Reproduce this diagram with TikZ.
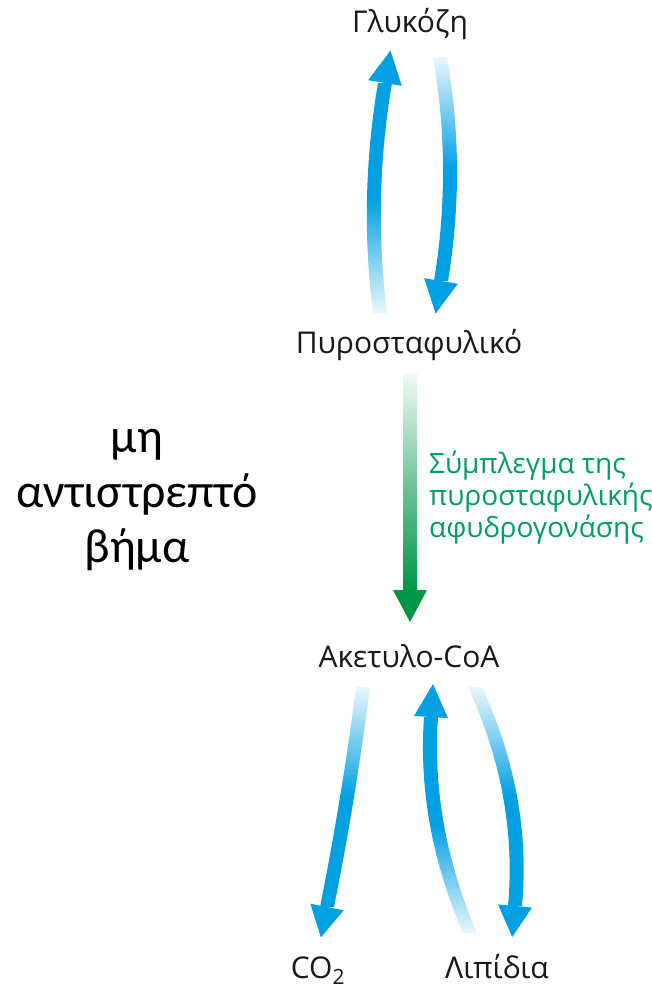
\documentclass[tikz,border=0pt]{standalone}
\usepackage{fontspec}
\setmainfont{Open Sans}
\newfontfamily\calibrifont{Carlito}
\usepackage{tikz}
\usetikzlibrary{calc}
\definecolor{bluearr}{RGB}{0,160,226}
\definecolor{greenarr}{RGB}{0,150,72}
\definecolor{greentxt}{RGB}{0,158,100}
\tikzset{
  compound/.style={font=\fontsize{30}{34}\selectfont,text=black!90,anchor=base,inner sep=0pt},
  enzyme/.style={font=\fontsize{28}{32}\selectfont,text=greentxt,align=left,anchor=north west,inner sep=0pt},
  fadeup/.style={top color=#1,bottom color=#1!8,middle color=#1},
  fadedown/.style={top color=#1!8,bottom color=#1,middle color=#1},
  fadegreen/.style={top color=greenarr!5,bottom color=greenarr,middle color=greenarr!55},
}
% #1 shading, #2 head colour, #3 tail, #4 bend point, #5 head base, #6 tip
\newcommand{\fadearrow}[6]{%
  \shade[#1] ($(#3)+(-7,0)$) .. controls ($($(#3)!0.6667!(#4)$)+(-7,0)$) and ($($(#5)!0.6667!(#4)$)+(-7,0)$) .. ($(#5)+(-7,0)$)
    -- ($(#5)+(7,0)$) .. controls ($($(#5)!0.6667!(#4)$)+(7,0)$) and ($($(#3)!0.6667!(#4)$)+(7,0)$) .. ($(#3)+(7,0)$) -- cycle;
  \fill[#2] ($(#5)!17pt!90:(#6)$) -- (#6) -- ($(#5)!17pt!-90:(#6)$) -- cycle;
}
\begin{document}
\begin{tikzpicture}[x=1pt,y=-1pt]
\useasboundingbox (0,0) rectangle (652,991);
\node[compound] (glu) at (410,32) {Γλυκόζη};
\node[compound] (pyr) at (409,353) {Πυροσταφυλικό};
\node[compound] (acoa) at (409,667) {Ακετυλο-CoA};
\node[compound] (co2) at (318,978) {CO\textsubscript{2}};
\node[compound] (lip) at (497,978) {Λιπίδια};
\node[enzyme] (pdh) at (429,451) {Σύμπλεγμα της\\πυροσταφυλικής\\αφυδρογονάσης};
\node[font={\calibrifont\fontsize{48}{55}\selectfont},align=center,inner sep=0pt] (irrev) at (137,500) {μη\\αντιστρεπτό\\βήμα};
% glucose <-> pyruvate
\coordinate (gupT) at (380,313); \coordinate (gupC) at (365.5,198);
\coordinate (gupB) at (385,83);  \coordinate (gupE) at (390.5,50.5);
\coordinate (gdnT) at (440,57);  \coordinate (gdnC) at (459.5,169);
\coordinate (gdnB) at (441,281); \coordinate (gdnE) at (435.6,313.6);
\fadearrow{fadeup=bluearr}{bluearr}{gupT}{gupC}{gupB}{gupE}
\fadearrow{fadedown=bluearr}{bluearr}{gdnT}{gdnC}{gdnB}{gdnE}
% pyruvate -> acetyl-CoA
\coordinate (pdhT) at (410,373); \coordinate (pdhC) at (410,480);
\coordinate (pdhB) at (410,590); \coordinate (pdhE) at (410,622);
\fadearrow{fadegreen}{greenarr}{pdhT}{pdhC}{pdhB}{pdhE}
% acetyl-CoA -> CO2, lipids <-> acetyl-CoA
\coordinate (coT) at (363,687);  \coordinate (coC) at (349,797);
\coordinate (coB) at (327,907);  \coordinate (coE) at (320.9,937.4);
\coordinate (lupT) at (470,933); \coordinate (lupC) at (423.5,825);
\coordinate (lupB) at (431,717); \coordinate (lupE) at (433,684);
\coordinate (ldnT) at (475,687); \coordinate (ldnC) at (525,796);
\coordinate (ldnB) at (515,906); \coordinate (ldnE) at (512.2,937);
\fadearrow{fadedown=bluearr}{bluearr}{coT}{coC}{coB}{coE}
\fadearrow{fadeup=bluearr}{bluearr}{lupT}{lupC}{lupB}{lupE}
\fadearrow{fadedown=bluearr}{bluearr}{ldnT}{ldnC}{ldnB}{ldnE}
\end{tikzpicture}
\end{document}
